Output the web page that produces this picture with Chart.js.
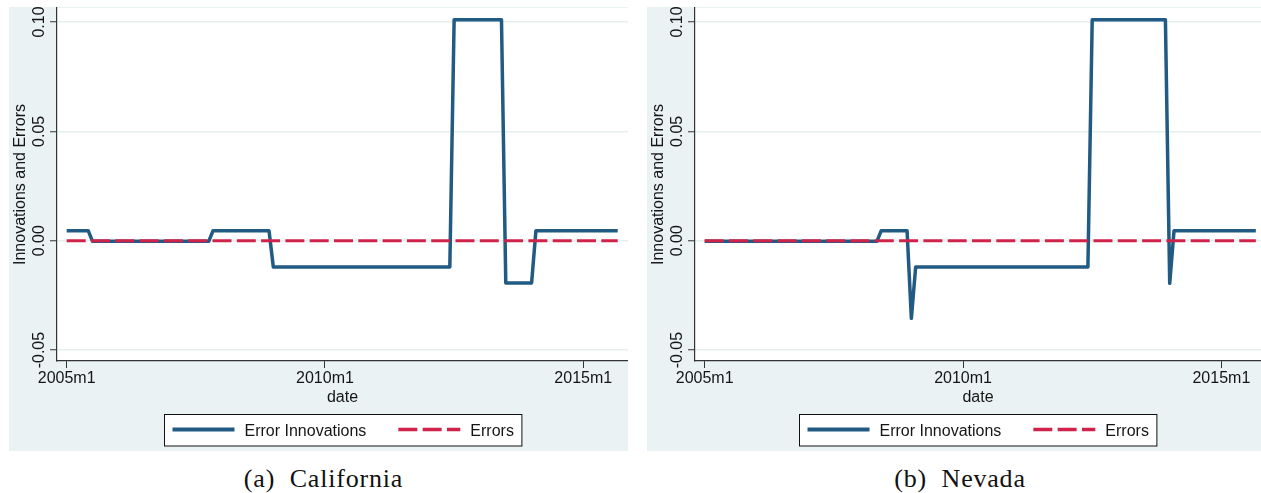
<!DOCTYPE html>
<html>
<head>
<meta charset="utf-8">
<script src="https://cdn.jsdelivr.net/npm/chart.js@4.4.1/dist/chart.umd.min.js"></script>
<style>
  html, body { margin: 0; padding: 0; background: #ffffff; }
  body { width: 1261px; height: 493px; position: relative; overflow: hidden; }
  canvas { position: absolute; }
  #panelA { left: 9px; top: 7px; }
  #panelB { left: 647px; top: 7px; }
  .caption {
    position: absolute; top: 466px; width: 300px; text-align: center;
    font-family: "Liberation Serif", "DejaVu Serif", serif; font-size: 26px;
    line-height: 26px; letter-spacing: 0.8px; color: #111;
  }
  #capA { left: 173.5px; }
  #capB { left: 810px; }
</style>
</head>
<body>
<canvas id="panelA" width="619" height="444"></canvas>
<canvas id="panelB" width="614" height="444"></canvas>
<div class="caption" id="capA">(a)&nbsp; California</div>
<div class="caption" id="capB">(b)&nbsp; Nevada</div>
<script>
// Monthly series, 2005m1 .. 2015m9 (one row per year)
const innovationsCA = [
  0.0046, 0.0046, 0.0046, 0.0046, 0.0046, 0.0046, -0.0003, -0.0003, -0.0003, -0.0003, -0.0003, -0.0003,
  -0.0003, -0.0003, -0.0003, -0.0003, -0.0003, -0.0003, -0.0003, -0.0003, -0.0003, -0.0003, -0.0003, -0.0003,
  -0.0003, -0.0003, -0.0003, -0.0003, -0.0003, -0.0003, -0.0003, -0.0003, -0.0003, -0.0003, 0.0046, 0.0046,
  0.0046, 0.0046, 0.0046, 0.0046, 0.0046, 0.0046, 0.0046, 0.0046, 0.0046, 0.0046, 0.0046, 0.0046,
  -0.012, -0.012, -0.012, -0.012, -0.012, -0.012, -0.012, -0.012, -0.012, -0.012, -0.012, -0.012,
  -0.012, -0.012, -0.012, -0.012, -0.012, -0.012, -0.012, -0.012, -0.012, -0.012, -0.012, -0.012,
  -0.012, -0.012, -0.012, -0.012, -0.012, -0.012, -0.012, -0.012, -0.012, -0.012, -0.012, -0.012,
  -0.012, -0.012, -0.012, -0.012, -0.012, -0.012, 0.101, 0.101, 0.101, 0.101, 0.101, 0.101,
  0.101, 0.101, 0.101, 0.101, 0.101, 0.101, -0.0193, -0.0193, -0.0193, -0.0193, -0.0193, -0.0193,
  -0.0193, 0.0046, 0.0046, 0.0046, 0.0046, 0.0046, 0.0046, 0.0046, 0.0046, 0.0046, 0.0046, 0.0046,
  0.0046, 0.0046, 0.0046, 0.0046, 0.0046, 0.0046, 0.0046, 0.0046, 0.0046
];
const errorsCA = [
  0, 0, 0, 0, 0, 0, 0, 0, 0, 0, 0, 0,
  0, 0, 0, 0, 0, 0, 0, 0, 0, 0, 0, 0,
  0, 0, 0, 0, 0, 0, 0, 0, 0, 0, 0, 0,
  0, 0, 0, 0, 0, 0, 0, 0, 0, 0, 0, 0,
  0, 0, 0, 0, 0, 0, 0, 0, 0, 0, 0, 0,
  0, 0, 0, 0, 0, 0, 0, 0, 0, 0, 0, 0,
  0, 0, 0, 0, 0, 0, 0, 0, 0, 0, 0, 0,
  0, 0, 0, 0, 0, 0, 0, 0, 0, 0, 0, 0,
  0, 0, 0, 0, 0, 0, 0, 0, 0, 0, 0, 0,
  0, 0, 0, 0, 0, 0, 0, 0, 0, 0, 0, 0,
  0, 0, 0, 0, 0, 0, 0, 0, 0
];
const innovationsNV = [
  -0.0003, -0.0003, -0.0003, -0.0003, -0.0003, -0.0003, -0.0003, -0.0003, -0.0003, -0.0003, -0.0003, -0.0003,
  -0.0003, -0.0003, -0.0003, -0.0003, -0.0003, -0.0003, -0.0003, -0.0003, -0.0003, -0.0003, -0.0003, -0.0003,
  -0.0003, -0.0003, -0.0003, -0.0003, -0.0003, -0.0003, -0.0003, -0.0003, -0.0003, -0.0003, -0.0003, -0.0003,
  -0.0003, -0.0003, -0.0003, -0.0003, -0.0003, 0.0046, 0.0046, 0.0046, 0.0046, 0.0046, 0.0046, 0.0046,
  -0.0355, -0.012, -0.012, -0.012, -0.012, -0.012, -0.012, -0.012, -0.012, -0.012, -0.012, -0.012,
  -0.012, -0.012, -0.012, -0.012, -0.012, -0.012, -0.012, -0.012, -0.012, -0.012, -0.012, -0.012,
  -0.012, -0.012, -0.012, -0.012, -0.012, -0.012, -0.012, -0.012, -0.012, -0.012, -0.012, -0.012,
  -0.012, -0.012, -0.012, -0.012, -0.012, -0.012, 0.101, 0.101, 0.101, 0.101, 0.101, 0.101,
  0.101, 0.101, 0.101, 0.101, 0.101, 0.101, 0.101, 0.101, 0.101, 0.101, 0.101, 0.101,
  -0.0195, 0.0046, 0.0046, 0.0046, 0.0046, 0.0046, 0.0046, 0.0046, 0.0046, 0.0046, 0.0046, 0.0046,
  0.0046, 0.0046, 0.0046, 0.0046, 0.0046, 0.0046, 0.0046, 0.0046, 0.0046
];
const errorsNV = [
  0, 0, 0, 0, 0, 0, 0, 0, 0, 0, 0, 0,
  0, 0, 0, 0, 0, 0, 0, 0, 0, 0, 0, 0,
  0, 0, 0, 0, 0, 0, 0, 0, 0, 0, 0, 0,
  0, 0, 0, 0, 0, 0, 0, 0, 0, 0, 0, 0,
  0, 0, 0, 0, 0, 0, 0, 0, 0, 0, 0, 0,
  0, 0, 0, 0, 0, 0, 0, 0, 0, 0, 0, 0,
  0, 0, 0, 0, 0, 0, 0, 0, 0, 0, 0, 0,
  0, 0, 0, 0, 0, 0, 0, 0, 0, 0, 0, 0,
  0, 0, 0, 0, 0, 0, 0, 0, 0, 0, 0, 0,
  0, 0, 0, 0, 0, 0, 0, 0, 0, 0, 0, 0,
  0, 0, 0, 0, 0, 0, 0, 0, 0
];

// Axis ticks: x in months since 2005m1
const xTickMonths = [0, 60, 120];
const xTickLabels = ['2005m1', '2010m1', '2015m1'];
const yTickValues = [-0.05, 0, 0.05, 0.10];
const yTickLabels = ['-0.05', '0.00', '0.05', '0.10'];
const seriesNames = ['Error Innovations', 'Errors'];
const xTitle = 'date';
const yTitle = 'Innovations and Errors';

const BG = '#eaf2f3';
const GRID = '#e6eff0';
const AXIS = '#333333';
const BLUE = '#215a82';
const RED = '#d0234a';
const FONT = '16px "Liberation Sans", Arial, Helvetica, sans-serif';
const TEXT = '#151515';

const panelBackground = {
  id: 'panelBackground',
  beforeDraw(chart) {
    const { ctx, chartArea: a, width, height } = chart;
    ctx.save();
    ctx.fillStyle = BG;
    ctx.fillRect(0, 0, width, height);
    ctx.fillStyle = '#ffffff';
    ctx.fillRect(a.left, a.top, a.right - a.left, a.bottom - a.top);
    ctx.restore();
  }
};

const axisText = {
  id: 'axisText',
  afterDraw(chart) {
    const { ctx, chartArea: a, scales } = chart;
    const xs = scales.x, ys = scales.y;
    ctx.save();
    ctx.font = FONT;
    ctx.fillStyle = TEXT;

    // y tick labels, rotated to read upward
    ctx.textAlign = 'center';
    ctx.textBaseline = 'alphabetic';
    yTickValues.forEach((v, i) => {
      const py = ys.getPixelForValue(v);
      ctx.save();
      ctx.translate(35, py);
      ctx.rotate(-Math.PI / 2);
      ctx.fillText(yTickLabels[i], 0, 0);
      ctx.restore();
    });

    // y axis title
    ctx.save();
    ctx.translate(16.3, (a.top + a.bottom) / 2);
    ctx.rotate(-Math.PI / 2);
    ctx.fillText(yTitle, 0, 0);
    ctx.restore();

    // x tick labels and title
    xTickMonths.forEach((m, i) => {
      ctx.fillText(xTickLabels[i], xs.getPixelForValue(m), a.bottom + 22.3);
    });
    ctx.fillText(xTitle, (a.left + a.right) / 2, a.bottom + 40.7);

    // legend
    const ds = chart.data.datasets;
    const sample = 62, pad = 8, gapText = 10, gapEntry = 32;
    ctx.textAlign = 'left';
    const widths = ds.map(d => ctx.measureText(d.label).width);
    const boxW = pad * 2 + ds.length * (sample + gapText) + widths.reduce((s, w) => s + w, 0) + gapEntry * (ds.length - 1);
    const boxH = 31.5;
    const boxL = Math.round((a.left + a.right) / 2 - boxW / 2) + 0.5;
    const boxT = 407.5;
    ctx.fillStyle = '#ffffff';
    ctx.fillRect(boxL, boxT, boxW, boxH);
    ctx.strokeStyle = '#111111';
    ctx.lineWidth = 1;
    ctx.strokeRect(boxL, boxT, boxW, boxH);
    let cx = boxL + pad;
    const ly = boxT + 15;
    ds.forEach((d, i) => {
      ctx.save();
      ctx.strokeStyle = d.borderColor;
      ctx.lineWidth = d.borderWidth + 0.5;
      ctx.setLineDash(d.borderDash || []);
      ctx.beginPath();
      ctx.moveTo(cx, ly);
      ctx.lineTo(cx + sample, ly);
      ctx.stroke();
      ctx.restore();
      cx += sample + gapText;
      ctx.fillStyle = TEXT;
      ctx.fillText(d.label, cx, boxT + 21.3);
      cx += widths[i] + gapEntry;
    });
    ctx.restore();
  }
};

function buildPanel(canvasId, innovations, errors, xMax) {
  const months = innovations.map((_, i) => i);
  return new Chart(document.getElementById(canvasId), {
    type: 'line',
    data: {
      labels: months,
      datasets: [
        {
          label: seriesNames[0], data: innovations, borderColor: BLUE, borderWidth: 3.5,
          borderJoinStyle: 'round', borderCapStyle: 'butt', pointRadius: 0, tension: 0, order: 1
        },
        {
          label: seriesNames[1], data: errors, borderColor: RED, borderWidth: 3,
          borderDash: [19, 5.3], borderCapStyle: 'butt', pointRadius: 0, tension: 0, order: 0
        }
      ]
    },
    options: {
      responsive: false,
      animation: false,
      devicePixelRatio: 1,
      layout: { padding: { top: 1, left: 0, right: 0, bottom: 0 } },
      plugins: { legend: { display: false }, tooltip: { enabled: false } },
      scales: {
        x: {
          type: 'linear', min: -2.25, max: xMax,
          afterBuildTicks: s => { s.ticks = xTickMonths.map(v => ({ value: v })); },
          afterFit: s => { s.height = 90; },
          ticks: { display: false },
          grid: { drawOnChartArea: false, drawTicks: true, tickLength: 7, tickColor: AXIS, tickWidth: 1 },
          border: { display: true, color: AXIS, width: 1.2 }
        },
        y: {
          type: 'linear', min: -0.0550, max: 0.1064,
          afterBuildTicks: s => { s.ticks = yTickValues.map(v => ({ value: v })); },
          afterFit: s => { s.width = 48; },
          ticks: { display: false },
          grid: { color: GRID, lineWidth: 1.5, drawTicks: true, tickLength: 7, tickColor: AXIS, tickWidth: 1 },
          border: { display: true, color: AXIS, width: 1.2 }
        }
      }
    },
    plugins: [panelBackground, axisText]
  });
}

buildPanel('panelA', innovationsCA, errorsCA, 130.39);
buildPanel('panelB', innovationsNV, errorsNV, 129.2);
</script>
</body>
</html>
